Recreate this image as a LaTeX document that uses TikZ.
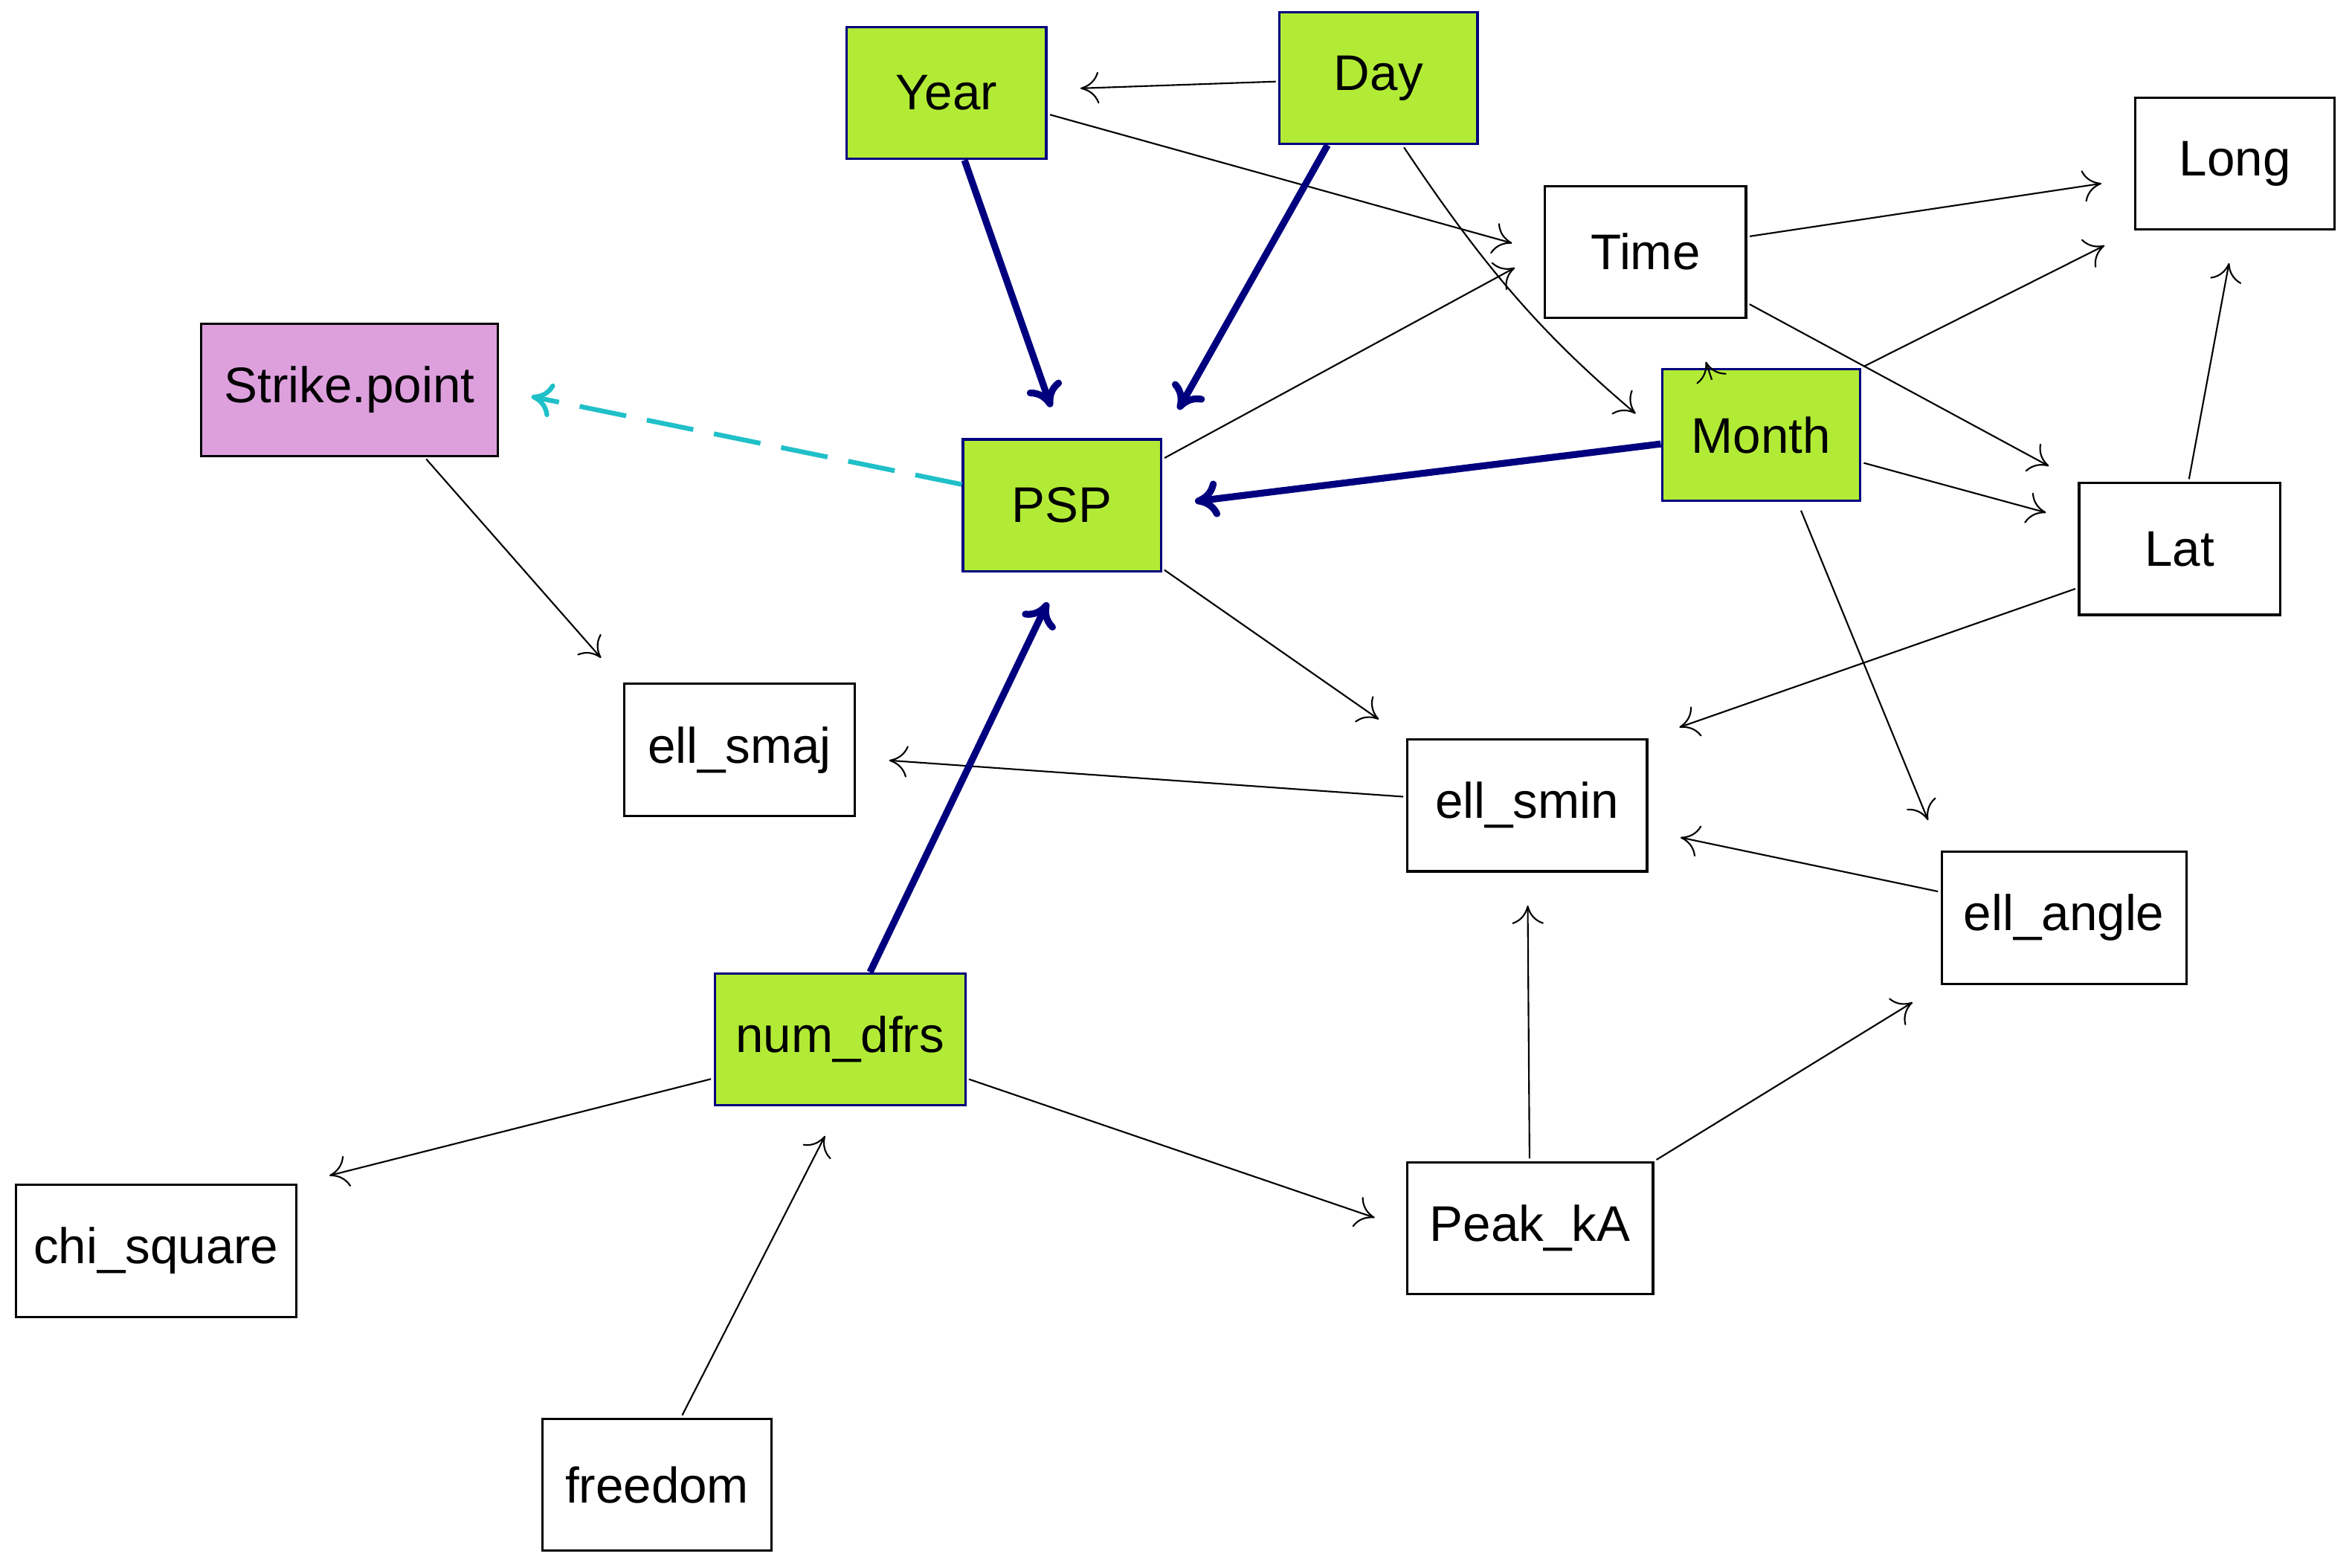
\documentclass[tikz,border=0pt]{standalone}
\usepackage{fontspec}
\setmainfont{Liberation Sans}
\usetikzlibrary{arrows.meta}
\definecolor{grn}{HTML}{B2EB35}
\definecolor{pnk}{HTML}{DDA0DD}
\definecolor{nvy}{HTML}{00007F}
\definecolor{cyn}{HTML}{20C0C8}
\begin{document}
\begin{tikzpicture}[x=0.02cm,y=-0.02cm,
 box/.style={draw=black,line width=0.9pt,minimum width=#1*0.02cm,minimum height=88*0.02cm,inner sep=0pt,font=\fontsize{19}{21}\selectfont},
 gbox/.style={box=#1,fill=grn,draw=nvy},
 pbox/.style={box=#1,fill=pnk,draw=black},
 e/.style={-{To[length=7pt,width=12pt]},line width=0.6pt,shorten >=22*0.02cm,shorten <=1pt},
 s/.style={-{To[length=9pt,width=14pt]},line width=2.6pt,draw=nvy,shorten >=22*0.02cm},
 d/.style={-{To[length=8pt,width=13pt]},line width=1.8pt,draw=cyn,dash pattern=on 18pt off 8pt,shorten >=22*0.02cm}]
\useasboundingbox (0,0) rectangle (1568,1045);
\node[gbox=133] (Year) at (631,62) {Year};
\node[gbox=132] (Day) at (919,52) {Day};
\node[box=133] (Long) at (1490,109) {Long};
\node[box=134] (Time) at (1097,168) {Time};
\node[pbox=198] (SP) at (233,260) {Strike.point};
\node[gbox=132] (PSP) at (708,337) {PSP};
\node[gbox=132] (Month) at (1174,290) {Month};
\node[box=134] (Lat) at (1453,366) {Lat};
\node[box=154] (smaj) at (493,500) {ell\_smaj};
\node[box=160] (smin) at (1018,537) {ell\_smin};
\node[box=163] (angle) at (1376,612) {ell\_angle};
\node[gbox=167] (num) at (560,693) {num\_dfrs};
\node[box=187] (chi) at (104,834) {chi\_square};
\node[box=164] (peak) at (1020,819) {Peak\_kA};
\node[box=153] (free) at (438,990) {freedom};

\draw[e] (Day) -- (Year);
\draw[e] (Year.east) ++(0,14) -- (Time.west);
\draw[e] (Day.south) ++(16,0) to[bend right=8] (Month.west);
\draw[e] (Time) -- (Long);
\draw[e] (Time.east) ++(0,34) -- (Lat.north west);
\draw[e] (Month.north east) -- (Long.south west);
\draw[e] (Month) -- (Lat);
\draw[-{To[length=7pt,width=12pt]},line width=0.6pt] (Month.north west) ++(34,8) -- ++(-4,-12);
\draw[e] (PSP.north east) ++(0,14) -- (Time.west);
\draw[e] (PSP.east) ++(0,42) -- (smin.north west);
\draw[e] (Month.south) ++(26,4) -- (angle.north west);
\draw[e] (Lat.north) ++(6,0) -- (Long.south);
\draw[e] (Lat.west) ++(0,26) -- (smin.north east);
\draw[e] (smin) -- (smaj);
\draw[e] (angle) -- (smin);
\draw[e] (peak) -- (smin);
\draw[e] (peak.north east) -- (angle.south west);
\draw[e] (num.east) ++(0,26) -- (peak.west);
\draw[e] (num.west) ++(0,26) -- (chi.north east);
\draw[e] (free.north) ++(16,0) -- (num.south);
\draw[e] (SP.south) ++(50,0) -- (smaj.north west);
\draw[s] (Year.south) ++(12,0) -- (PSP.north);
\draw[s] (Day.south) ++(-34,0) -- (PSP.north east);
\draw[s] (Month.west) ++(0,6) -- (PSP.east);
\draw[s] (num.north) ++(20,0) -- (PSP.south);
\draw[d] (PSP.west) ++(0,-14) -- (SP.east);
\end{tikzpicture}
\end{document}
